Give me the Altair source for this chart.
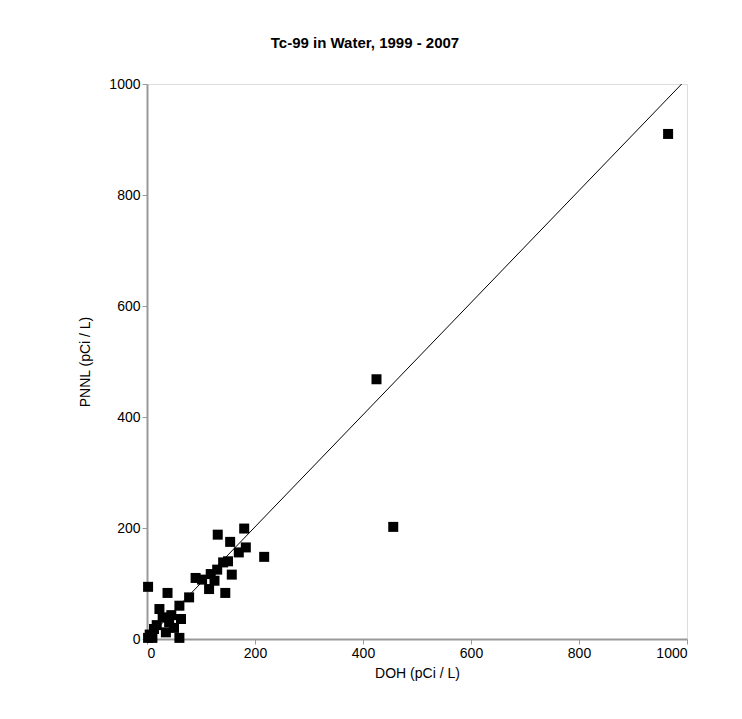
import pandas as pd
import altair as alt

# Tc-99 paired measurements (pCi / L)
doh = [965, 425, 456, 131, 180, 154, 183, 170, 217, 141, 157, 118, 102, 115, 145,
       2, 38, 78, 60, 23, 63, 41, 13, 60, 35, 2, 10, 45, 29, 130, 150, 90, 125, 5, 18, 50]
pnnl = [910, 468, 202, 188, 199, 175, 165, 156, 148, 138, 116, 117, 107, 90, 83,
        94, 83, 75, 60, 54, 36, 30, 18, 2, 12, 2, 2, 43, 39, 125, 140, 110, 105, 8, 25, 20]

line_x = [0, 1000]
line_y = [0, 1010]

pts = pd.DataFrame({'doh': doh, 'pnnl': pnnl})
fit = pd.DataFrame({'doh': line_x, 'pnnl': line_y})

xs = alt.Scale(domain=[0, 1000], nice=False)
ys = alt.Scale(domain=[0, 1000], nice=False)

common = dict(values=[0, 200, 400, 600, 800, 1000], format='d', grid=False, tickSize=5,
              domainColor='#999', domainWidth=2, tickColor='#999',
              labelFontSize=14, titleFontSize=14, titleFontWeight='normal',
              labelColor='black')
x_axis = alt.Axis(titlePadding=6, **common)
y_axis = alt.Axis(titlePadding=16, **common)

line = alt.Chart(fit).mark_line(color='black', strokeWidth=1, clip=True).encode(
    x=alt.X('doh:Q', scale=xs, axis=x_axis, title='DOH (pCi / L)'),
    y=alt.Y('pnnl:Q', scale=ys, axis=y_axis, title='PNNL (pCi / L)')
)

points = alt.Chart(pts).mark_square(color='black', size=100, opacity=1).encode(
    x='doh:Q',
    y='pnnl:Q'
)

chart = alt.layer(line, points).properties(
    width=540,
    height=555,
    title=alt.TitleParams('Tc-99 in Water, 1999 - 2007', fontSize=15,
                          fontWeight='bold', offset=26, dx=-52),
    background='white',
    padding={'left': 70, 'top': 28, 'right': 30, 'bottom': 10}
).configure_view(stroke=None).configure(font='Liberation Sans')

chart.save("out.html", embed_options={"renderer": "svg", "actions": False})
